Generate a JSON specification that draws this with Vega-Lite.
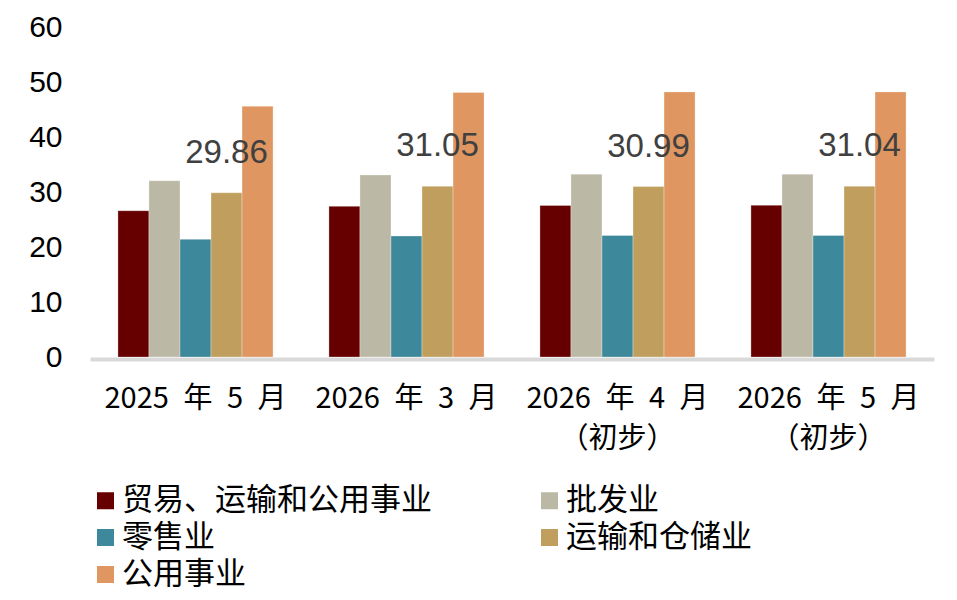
{
  "$schema": "https://vega.github.io/schema/vega-lite/v6.json",
  "width": 844,
  "height": 330,
  "autosize": "none",
  "padding": {"left": 90, "top": 27, "right": 23, "bottom": 243},
  "background": "white",
  "config": {"view": {"stroke": null}},
  "data": {
    "values": [
      {"period": "2025\u2002年\u20025\u2002月", "series": "贸易、运输和公用事业", "value": 26.6},
      {"period": "2025\u2002年\u20025\u2002月", "series": "批发业", "value": 32.05},
      {"period": "2025\u2002年\u20025\u2002月", "series": "零售业", "value": 21.4},
      {"period": "2025\u2002年\u20025\u2002月", "series": "运输和仓储业", "value": 29.86},
      {"period": "2025\u2002年\u20025\u2002月", "series": "公用事业", "value": 45.6},
      {"period": "2026\u2002年\u20023\u2002月", "series": "贸易、运输和公用事业", "value": 27.4},
      {"period": "2026\u2002年\u20023\u2002月", "series": "批发业", "value": 33.1},
      {"period": "2026\u2002年\u20023\u2002月", "series": "零售业", "value": 22.0},
      {"period": "2026\u2002年\u20023\u2002月", "series": "运输和仓储业", "value": 31.05},
      {"period": "2026\u2002年\u20023\u2002月", "series": "公用事业", "value": 48.1},
      {"period": "2026\u2002年\u20024\u2002月\n（初步）", "series": "贸易、运输和公用事业", "value": 27.55},
      {"period": "2026\u2002年\u20024\u2002月\n（初步）", "series": "批发业", "value": 33.25},
      {"period": "2026\u2002年\u20024\u2002月\n（初步）", "series": "零售业", "value": 22.1},
      {"period": "2026\u2002年\u20024\u2002月\n（初步）", "series": "运输和仓储业", "value": 30.99},
      {"period": "2026\u2002年\u20024\u2002月\n（初步）", "series": "公用事业", "value": 48.2},
      {"period": "2026\u2002年\u20025\u2002月\n（初步）", "series": "贸易、运输和公用事业", "value": 27.6},
      {"period": "2026\u2002年\u20025\u2002月\n（初步）", "series": "批发业", "value": 33.25},
      {"period": "2026\u2002年\u20025\u2002月\n（初步）", "series": "零售业", "value": 22.1},
      {"period": "2026\u2002年\u20025\u2002月\n（初步）", "series": "运输和仓储业", "value": 31.04},
      {"period": "2026\u2002年\u20025\u2002月\n（初步）", "series": "公用事业", "value": 48.2}
    ]
  },
  "encoding": {
    "x": {
      "field": "period",
      "type": "nominal",
      "sort": null,
      "scale": {"paddingInner": 0, "paddingOuter": 0},
      "axis": {
        "title": null,
        "labelAngle": 0,
        "ticks": false,
        "domainColor": "#D9D9D9",
        "domainWidth": 4,
        "offset": 2,
        "labelPadding": 25,
        "labelFont": "Noto Sans CJK SC",
        "labelFontSize": 29,
        "labelColor": "black",
        "labelLineHeight": 40,
        "labelLimit": 400,
        "labelExpr": "split(datum.label, '\\n')"
      }
    },
    "xOffset": {
      "field": "series",
      "type": "nominal",
      "scale": {
        "domain": ["贸易、运输和公用事业", "批发业", "零售业", "运输和仓储业", "公用事业"],
        "paddingInner": 0,
        "paddingOuter": 0.9
      }
    },
    "y": {
      "field": "value",
      "type": "quantitative",
      "scale": {"domain": [0, 60]},
      "axis": {
        "title": null,
        "values": [0, 10, 20, 30, 40, 50, 60],
        "grid": false,
        "ticks": false,
        "domain": false,
        "labelPadding": 28,
        "labelFont": "Liberation Sans",
        "labelFontSize": 30,
        "labelColor": "black"
      }
    }
  },
  "layer": [
    {
      "mark": {"type": "bar", "stroke": "white", "strokeWidth": 0.6, "strokeOpacity": 0.5},
      "encoding": {
        "color": {
          "field": "series",
          "type": "nominal",
          "scale": {
            "domain": ["贸易、运输和公用事业", "批发业", "零售业", "运输和仓储业", "公用事业"],
            "range": ["#660000", "#BBB8A5", "#3E889C", "#C09F5E", "#DF9660"]
          },
          "legend": {
            "title": null,
            "orient": "none",
            "legendX": 0,
            "legendY": 458,
            "direction": "horizontal",
            "columns": 2,
            "columnPadding": 102,
            "rowPadding": 5,
            "symbolType": "square",
            "symbolSize": 289,
            "symbolStrokeWidth": 0,
            "symbolOpacity": 1,
            "labelOffset": 1,
            "labelFont": "Noto Sans CJK SC",
            "labelFontSize": 31,
            "labelColor": "black",
            "labelLimit": 500
          }
        }
      }
    },
    {
      "transform": [{"filter": "datum.series === '运输和仓储业'"}],
      "mark": {
        "type": "text",
        "dy": -30,
        "baseline": "alphabetic",
        "font": "Liberation Sans",
        "fontSize": 33,
        "color": "#404040"
      },
      "encoding": {
        "text": {"field": "value", "type": "quantitative", "format": ".2f"}
      }
    }
  ]
}
